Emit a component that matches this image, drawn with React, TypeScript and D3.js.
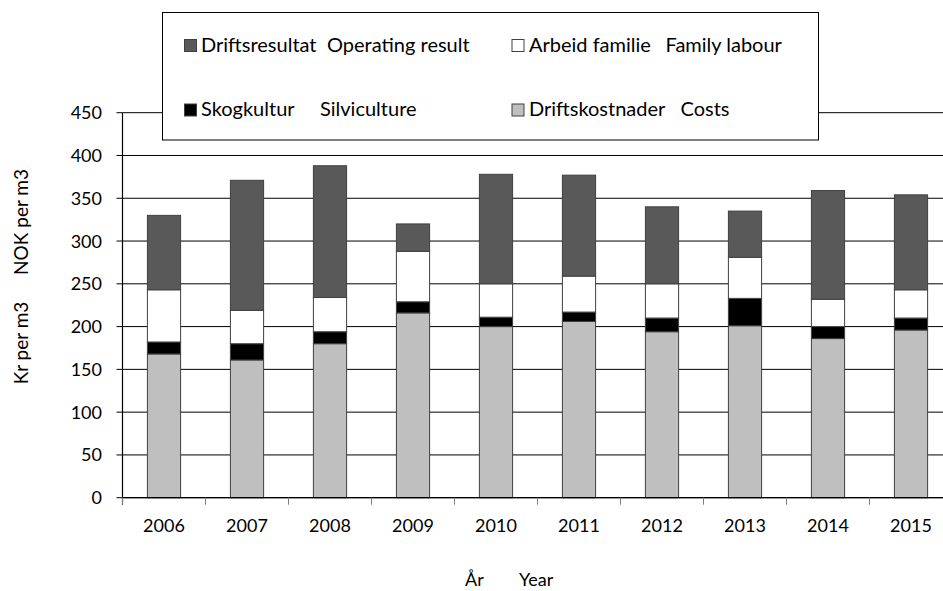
import React, { useEffect } from "react";
import * as d3 from "d3";

const years = ["2006", "2007", "2008", "2009", "2010", "2011", "2012", "2013", "2014", "2015"];
const costs = [168, 161, 180, 216, 200, 206, 194, 201, 186, 196];
const silviculture = [14, 19, 14, 13, 11, 11, 16, 32, 14, 14];
const familyLabour = [61, 39, 40, 59, 39, 42, 40, 48, 32, 33];
const operatingResult = [87, 152, 154, 32, 128, 118, 90, 54, 127, 111];
const yTicks = [0, 50, 100, 150, 200, 250, 300, 350, 400, 450];

const seriesKeys = ["costs", "silviculture", "familyLabour", "operatingResult"];
const seriesColors: Record<string, string> = {
  costs: "#bfbfbf",
  silviculture: "#000000",
  familyLabour: "#ffffff",
  operatingResult: "#595959",
};

const legendItems = [
  { key: "operatingResult", a: "Driftsresultat", b: "Operating result" },
  { key: "familyLabour", a: "Arbeid familie", b: "Family labour" },
  { key: "silviculture", a: "Skogkultur", b: "Silviculture" },
  { key: "costs", a: "Driftskostnader", b: "Costs" },
];

const FONT = "Lato, 'Open Sans', sans-serif";

export default function App() {
  useEffect(() => {
    document.body.style.margin = "0";
  }, []);

  const W = 943;
  const H = 591;
  const x0 = 122.5;
  const step = 83;
  const x = d3
    .scaleBand<string>()
    .domain(years)
    .range([x0, x0 + step * years.length])
    .paddingInner(0.6)
    .paddingOuter(0.3);
  const y = d3.scaleLinear().domain([0, 450]).range([497.7, 112.7]);

  const table = years.map((yr, i) => ({
    year: yr,
    costs: costs[i],
    silviculture: silviculture[i],
    familyLabour: familyLabour[i],
    operatingResult: operatingResult[i],
  }));
  const stacked = d3.stack<any>().keys(seriesKeys)(table);

  const boundaries = d3.range(years.length + 1).map((i) => x0 + i * step);

  const legendPos = [
    { sx: 184.5, sy: 39.5, tx: 201, bx: 327, by: 51.5 },
    { sx: 512, sy: 39.5, tx: 529, bx: 665.5, by: 51.5 },
    { sx: 184.5, sy: 104, tx: 201, bx: 320, by: 116 },
    { sx: 512, sy: 104, tx: 529, bx: 680.5, by: 116 },
  ];

  return (
    <svg width={W} height={H} style={{ display: "block", background: "#fff" }} fontFamily={FONT}>
      <rect x={0} y={0} width={W} height={H} fill="#fff" />
      {/* gridlines */}
      {yTicks.map((t) => (
        <line key={"g" + t} x1={x0} x2={W} y1={y(t)} y2={y(t)} stroke="#000" strokeWidth={1} />
      ))}
      {/* bars */}
      {stacked.map((s) => (
        <g key={s.key}>
          {s.map((d, i) => (
            <rect
              key={i}
              x={x(years[i])}
              width={x.bandwidth()}
              y={y(d[1])}
              height={y(d[0]) - y(d[1])}
              fill={seriesColors[s.key]}
              stroke="#404040"
              strokeWidth={1}
            />
          ))}
        </g>
      ))}
      {/* y axis */}
      <line x1={x0} x2={x0} y1={y(450)} y2={y(0) + 7} stroke="#000" strokeWidth={1.2} />
      {yTicks.map((t) => (
        <g key={"yt" + t}>
          <line x1={x0 - 6} x2={x0} y1={y(t)} y2={y(t)} stroke="#000" strokeWidth={1} />
          <text x={102} y={y(t)} dy="0.36em" textAnchor="end" fontSize={18} fill="#000">
            {t}
          </text>
        </g>
      ))}
      {/* x axis */}
      <line x1={x0} x2={W} y1={y(0)} y2={y(0)} stroke="#000" strokeWidth={1.2} />
      {boundaries.map((b, i) => (
        <line key={"xt" + i} x1={b} x2={b} y1={y(0)} y2={y(0) + 7} stroke="#7f7f7f" strokeWidth={1} />
      ))}
      {years.map((yr) => (
        <text key={"xl" + yr} x={(x(yr) as number) + x.bandwidth() / 2} y={532} textAnchor="middle" fontSize={18} fill="#000">
          {yr}
        </text>
      ))}
      {/* axis titles */}
      <text transform="translate(28,222) rotate(-90)" textAnchor="middle" fontSize={19} fill="#000">
        NOK per m3
      </text>
      <text transform="translate(28,343) rotate(-90)" textAnchor="middle" fontSize={19} fill="#000">
        Kr per m3
      </text>
      <text x={465} y={586} fontSize={18} fill="#000">År</text>
      <text x={519} y={586} fontSize={18} fill="#000">Year</text>
      {/* legend */}
      <rect x={162.5} y={12.5} width={656} height={127.5} fill="#fff" stroke="#000" strokeWidth={1} />
      {legendItems.map((it, i) => {
        const p = legendPos[i];
        return (
          <g key={it.key}>
            <rect x={p.sx} y={p.sy} width={12} height={12} fill={seriesColors[it.key]} stroke="#404040" strokeWidth={1} />
            <text x={p.tx} y={p.by} fontSize={20} fill="#000">{it.a}</text>
            <text x={p.bx} y={p.by} fontSize={20} fill="#000">{it.b}</text>
          </g>
        );
      })}
    </svg>
  );
}
